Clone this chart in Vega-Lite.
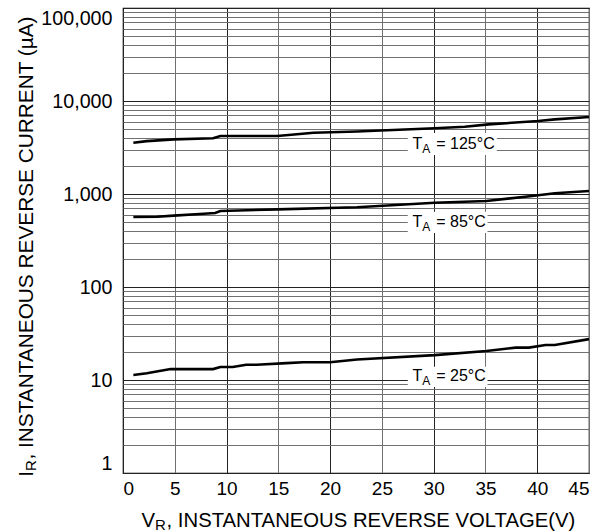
{
  "$schema": "https://vega.github.io/schema/vega-lite/v6.json",
  "width": 466,
  "height": 465,
  "autosize": "none",
  "padding": {"left": 123, "top": 8, "right": 19, "bottom": 59},
  "background": "white",
  "config": {
    "view": {"stroke": "#000", "strokeWidth": 1.2},
    "font": "Liberation Sans"
  },
  "datasets": {
    "curves": [
      {"series": "125°C", "V": 1, "I": 3550},
      {"series": "125°C", "V": 2.3, "I": 3700},
      {"series": "125°C", "V": 4.9, "I": 3870},
      {"series": "125°C", "V": 8.7, "I": 3970},
      {"series": "125°C", "V": 9.4, "I": 4200},
      {"series": "125°C", "V": 14.9, "I": 4200},
      {"series": "125°C", "V": 18.4, "I": 4560},
      {"series": "125°C", "V": 22.6, "I": 4700},
      {"series": "125°C", "V": 30.1, "I": 5085},
      {"series": "125°C", "V": 33, "I": 5290},
      {"series": "125°C", "V": 35.3, "I": 5600},
      {"series": "125°C", "V": 40.1, "I": 6100},
      {"series": "125°C", "V": 41.7, "I": 6350},
      {"series": "125°C", "V": 45, "I": 6730},
      {"series": "85°C", "V": 1, "I": 565},
      {"series": "85°C", "V": 3.3, "I": 570},
      {"series": "85°C", "V": 4.9, "I": 585},
      {"series": "85°C", "V": 7.8, "I": 614},
      {"series": "85°C", "V": 8.9, "I": 625},
      {"series": "85°C", "V": 9.4, "I": 657},
      {"series": "85°C", "V": 14.9, "I": 684},
      {"series": "85°C", "V": 22.6, "I": 720},
      {"series": "85°C", "V": 30.1, "I": 806},
      {"series": "85°C", "V": 35.1, "I": 841},
      {"series": "85°C", "V": 39.5, "I": 951},
      {"series": "85°C", "V": 41.7, "I": 1017},
      {"series": "85°C", "V": 45, "I": 1077},
      {"series": "25°C", "V": 1, "I": 11.3},
      {"series": "25°C", "V": 2.3, "I": 11.8},
      {"series": "25°C", "V": 4.6, "I": 13.1},
      {"series": "25°C", "V": 8.7, "I": 13.1},
      {"series": "25°C", "V": 9.4, "I": 13.8},
      {"series": "25°C", "V": 10.6, "I": 13.8},
      {"series": "25°C", "V": 11.9, "I": 14.6},
      {"series": "25°C", "V": 12.9, "I": 14.6},
      {"series": "25°C", "V": 15.8, "I": 15.2},
      {"series": "25°C", "V": 17.4, "I": 15.5},
      {"series": "25°C", "V": 20, "I": 15.5},
      {"series": "25°C", "V": 22.6, "I": 16.6},
      {"series": "25°C", "V": 30.1, "I": 18.5},
      {"series": "25°C", "V": 35.1, "I": 20.5},
      {"series": "25°C", "V": 37.9, "I": 22.3},
      {"series": "25°C", "V": 39.2, "I": 22.3},
      {"series": "25°C", "V": 40.8, "I": 23.8},
      {"series": "25°C", "V": 41.7, "I": 23.8},
      {"series": "25°C", "V": 45, "I": 27.5}
    ],
    "labels": [
      {"x": 28.9, "y": 3050, "x1": 27.5, "x2": 36.1, "y1": 4530, "y2": 2626, "main": "T", "sub": "A", "rest": "= 125°C"},
      {"x": 28.9, "y": 445, "x1": 27.5, "x2": 35.2, "y1": 646, "y2": 380, "main": "T", "sub": "A", "rest": "= 85°C"},
      {"x": 28.9, "y": 9.76, "x1": 27.5, "x2": 35.2, "y1": 13.9, "y2": 8.4, "main": "T", "sub": "A", "rest": "= 25°C"}
    ],
    "titles": [
      {"axis": "x", "x": 3.1, "y": 0.263, "main": "V", "sub": "R", "rest": ", INSTANTANEOUS REVERSE VOLTAGE(V)"},
      {"axis": "y", "x": -8.66, "y": 1.05, "main": "I", "sub": "R", "rest": ", INSTANTANEOUS REVERSE CURRENT (µA)"}
    ]
  },
  "layer": [
    {
      "data": {"name": "labels"},
      "mark": {"type": "rect", "fill": "white"},
      "encoding": {
        "x": {
          "field": "x1", "type": "quantitative",
          "scale": {"domain": [0, 45], "nice": false, "zero": false},
          "axis": {
            "title": null,
            "values": [0, 5, 10, 15, 20, 25, 30, 35, 40, 45],
            "grid": true,
            "gridColor": {"condition": {"test": "datum.value % 10 == 0", "value": "#222222"}, "value": "#707070"},
            "gridWidth": 1,
            "ticks": false,
            "domain": false,
            "labelFont": "Liberation Sans",
            "labelFontSize": 19,
            "labelColor": "#000",
            "labelFlush": true,
            "labelOverlap": false,
            "labelPadding": 6
          }
        },
        "x2": {"field": "x2"},
        "y": {
          "field": "y1", "type": "quantitative",
          "scale": {"type": "log", "domain": [1, 100000], "nice": false},
          "axis": {
            "title": null,
            "values": [1, 2, 3, 4, 5, 6, 7, 8, 9, 10, 20, 30, 40, 50, 60, 70, 80, 90, 100, 200, 300, 400, 500, 600, 700, 800, 900, 1000, 2000, 3000, 4000, 5000, 6000, 7000, 8000, 9000, 10000, 20000, 30000, 40000, 50000, 60000, 70000, 80000, 90000, 100000],
            "format": ",",
            "labelExpr": "indexof([1, 10, 100, 1000, 10000, 100000], datum.value) >= 0 ? datum.label : ''",
            "grid": true,
            "gridColor": {"condition": {"test": "indexof([1, 10, 100, 1000, 10000, 100000], datum.value) >= 0", "value": "#222222"}, "value": "#707070"},
            "gridWidth": 1,
            "ticks": false,
            "domain": false,
            "labelFont": "Liberation Sans",
            "labelFontSize": 19.7,
            "labelColor": "#000",
            "labelFlush": true,
            "labelOverlap": false,
            "labelPadding": 11
          }
        },
        "y2": {"field": "y2"}
      }
    },
    {
      "data": {"name": "curves"},
      "mark": {"type": "line", "color": "#000", "strokeWidth": 2.6},
      "encoding": {
        "x": {"field": "V", "type": "quantitative"},
        "y": {"field": "I", "type": "quantitative"},
        "detail": {"field": "series"}
      }
    },
    {
      "data": {"name": "labels"},
      "mark": {"type": "text", "align": "right", "baseline": "alphabetic", "fontSize": 16, "font": "Liberation Sans", "color": "#000"},
      "encoding": {
        "x": {"field": "x", "type": "quantitative"},
        "y": {"field": "y", "type": "quantitative"},
        "text": {"field": "main"}
      }
    },
    {
      "data": {"name": "labels"},
      "mark": {"type": "text", "align": "left", "baseline": "alphabetic", "fontSize": 12, "dy": 4, "font": "Liberation Sans", "color": "#000"},
      "encoding": {
        "x": {"field": "x", "type": "quantitative"},
        "y": {"field": "y", "type": "quantitative"},
        "text": {"field": "sub"}
      }
    },
    {
      "data": {"name": "labels"},
      "mark": {"type": "text", "align": "left", "baseline": "alphabetic", "fontSize": 16, "dx": 14, "font": "Liberation Sans", "color": "#000"},
      "encoding": {
        "x": {"field": "x", "type": "quantitative"},
        "y": {"field": "y", "type": "quantitative"},
        "text": {"field": "rest"}
      }
    },
    {
      "data": {"name": "titles"},
      "transform": [{"filter": "datum.axis == 'x'"}],
      "mark": {"type": "text", "align": "right", "baseline": "alphabetic", "fontSize": 20.3, "font": "Liberation Sans", "color": "#000"},
      "encoding": {
        "x": {"field": "x", "type": "quantitative"},
        "y": {"field": "y", "type": "quantitative"},
        "text": {"field": "main"}
      }
    },
    {
      "data": {"name": "titles"},
      "transform": [{"filter": "datum.axis == 'x'"}],
      "mark": {"type": "text", "align": "left", "baseline": "alphabetic", "fontSize": 15, "dy": 3, "font": "Liberation Sans", "color": "#000"},
      "encoding": {
        "x": {"field": "x", "type": "quantitative"},
        "y": {"field": "y", "type": "quantitative"},
        "text": {"field": "sub"}
      }
    },
    {
      "data": {"name": "titles"},
      "transform": [{"filter": "datum.axis == 'x'"}],
      "mark": {"type": "text", "align": "left", "baseline": "alphabetic", "fontSize": 20.3, "dx": 11.5, "font": "Liberation Sans", "color": "#000"},
      "encoding": {
        "x": {"field": "x", "type": "quantitative"},
        "y": {"field": "y", "type": "quantitative"},
        "text": {"field": "rest"}
      }
    },
    {
      "data": {"name": "titles"},
      "transform": [{"filter": "datum.axis == 'y'"}],
      "mark": {"type": "text", "align": "right", "baseline": "alphabetic", "angle": 270, "fontSize": 20.8, "font": "Liberation Sans", "color": "#000"},
      "encoding": {
        "x": {"field": "x", "type": "quantitative"},
        "y": {"field": "y", "type": "quantitative"},
        "text": {"field": "main"}
      }
    },
    {
      "data": {"name": "titles"},
      "transform": [{"filter": "datum.axis == 'y'"}],
      "mark": {"type": "text", "align": "left", "baseline": "alphabetic", "angle": 270, "fontSize": 15, "dy": 3, "font": "Liberation Sans", "color": "#000"},
      "encoding": {
        "x": {"field": "x", "type": "quantitative"},
        "y": {"field": "y", "type": "quantitative"},
        "text": {"field": "sub"}
      }
    },
    {
      "data": {"name": "titles"},
      "transform": [{"filter": "datum.axis == 'y'"}],
      "mark": {"type": "text", "align": "left", "baseline": "alphabetic", "angle": 270, "fontSize": 20.8, "dx": 11.5, "font": "Liberation Sans", "color": "#000"},
      "encoding": {
        "x": {"field": "x", "type": "quantitative"},
        "y": {"field": "y", "type": "quantitative"},
        "text": {"field": "rest"}
      }
    }
  ]
}
